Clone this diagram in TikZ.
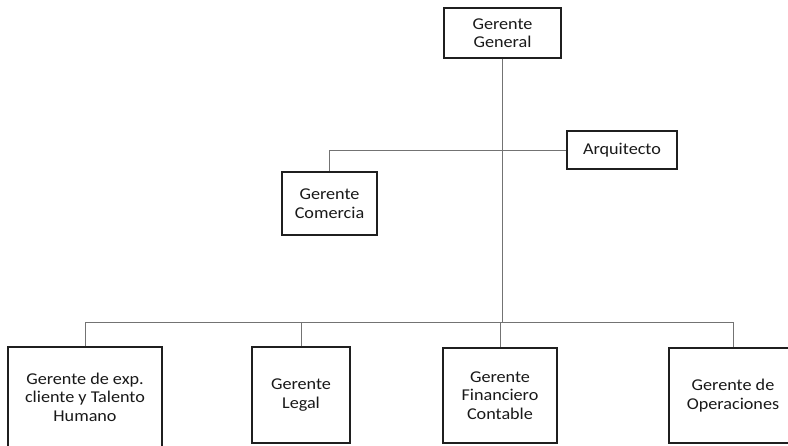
\documentclass[tikz,border=0pt]{standalone}
\usepackage{fontspec}
\setmainfont{Carlito}[FakeStretch=1.1]
\begin{document}
\begin{tikzpicture}[x=1pt,y=-1pt,
  box/.style={draw=black!88,line width=1.3pt,fill=white,align=center,
    inner sep=0pt,text=black!90,font=\fontsize{16.5}{18.5}\selectfont},
  link/.style={draw=black!55,line width=0.9pt}]
  \useasboundingbox (0,0) rectangle (788,445);
  \clip (0,0) rectangle (788,445);
  % levels of the chart
  \coordinate (bus) at (0,322);
  % boxes
  \node[box,minimum width=117pt,minimum height=50pt] (gg) at (502.5,33) {Gerente\\General};
  \node[box,minimum width=110pt,minimum height=38pt] (arq) at (622,150) {Arquitecto};
  \node[box,minimum width=95pt,minimum height=63pt] (com) at (329.5,203.5) {Gerente\\Comercia};
  \node[box,minimum width=154pt,minimum height=100pt] (exp) at (85,397) {Gerente de exp.\\cliente y Talento\\Humano};
  \node[box,minimum width=98pt,minimum height=96pt] (leg) at (301,395) {Gerente\\Legal};
  \node[box,line width=2pt,minimum width=114pt,minimum height=95pt] (fin) at (500,395.5) {Gerente\\Financiero\\Contable};
  \node[box,minimum width=128pt,minimum height=95pt] (ope) at (733,395.5) {Gerente de\\Operaciones};
  % connectors
  \draw[link] (gg.south) -- (gg.south |- bus);
  \draw[link] (arq.west) -| (com.north);
  \draw[link] (exp.north) -- (exp.north |- bus) -| (ope.north);
  \draw[link] (leg.north) -- (leg.north |- bus);
  \draw[link] (fin.north) -- (fin.north |- bus);
\end{tikzpicture}
\end{document}
